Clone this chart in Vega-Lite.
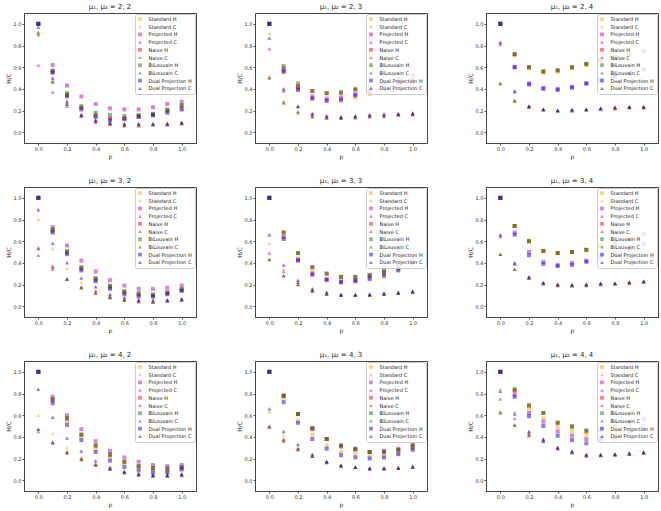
{
"$schema":"https://vega.github.io/schema/vega-lite/v6.json",
"padding":{"left":4,"top":2,"right":2,"bottom":2},
"background":"white",
"config":{
"font":"DejaVu Sans",
"view":{"stroke":"#444","strokeWidth":1},
"title":{"fontSize":7,"fontWeight":"normal","color":"#222","offset":3},
"axis":{"labelFontSize":5,"titleFontSize":6,"titleFontWeight":"normal","tickSize":2,"tickColor":"#555","labelColor":"#333","titleColor":"#333","domain":true,"domainColor":"#444","grid":false,"labelPadding":1,"titlePadding":2},
"legend":{"orient":"top-right","offset":1,"padding":2.5,"fillColor":"rgba(255,255,255,0.85)","strokeColor":"#ccc","cornerRadius":2,"labelFontSize":5,"labelColor":"#222","symbolSize":14,"rowPadding":1.7,"labelOffset":6,"symbolOpacity":0.5,"symbolStrokeWidth":0}
},
"spacing":{"row":16,"column":38},
"columns":3,
"resolve":{"legend":{"color":"independent","shape":"independent"}},
"datasets":{
"d22":[
{"s":"SH","p":0,"v":1},{"s":"SH","p":0.1,"v":0.55},{"s":"SH","p":0.2,"v":0.35},{"s":"SH","p":0.3,"v":0.22},{"s":"SH","p":0.4,"v":0.15},{"s":"SH","p":0.5,"v":0.12},{"s":"SH","p":0.6,"v":0.12},{"s":"SH","p":0.7,"v":0.14},{"s":"SH","p":0.8,"v":0.15},{"s":"SH","p":0.9,"v":0.19},{"s":"SH","p":1,"v":0.21},
{"s":"SC","p":0,"v":0.91},{"s":"SC","p":0.1,"v":0.49},{"s":"SC","p":0.2,"v":0.29},{"s":"SC","p":0.3,"v":0.16},{"s":"SC","p":0.4,"v":0.11},{"s":"SC","p":0.5,"v":0.08},{"s":"SC","p":0.6,"v":0.06},{"s":"SC","p":0.7,"v":0.06},{"s":"SC","p":0.8,"v":0.07},{"s":"SC","p":0.9,"v":0.07},{"s":"SC","p":1,"v":0.08},
{"s":"PH","p":0,"v":1},{"s":"PH","p":0.1,"v":0.62},{"s":"PH","p":0.2,"v":0.43},{"s":"PH","p":0.3,"v":0.33},{"s":"PH","p":0.4,"v":0.26},{"s":"PH","p":0.5,"v":0.22},{"s":"PH","p":0.6,"v":0.21},{"s":"PH","p":0.7,"v":0.21},{"s":"PH","p":0.8,"v":0.23},{"s":"PH","p":0.9,"v":0.26},{"s":"PH","p":1,"v":0.28},
{"s":"PC","p":0,"v":0.62},{"s":"PC","p":0.1,"v":0.37},{"s":"PC","p":0.2,"v":0.24},{"s":"PC","p":0.3,"v":0.15},{"s":"PC","p":0.4,"v":0.1},{"s":"PC","p":0.5,"v":0.08},{"s":"PC","p":0.6,"v":0.07},{"s":"PC","p":0.7,"v":0.07},{"s":"PC","p":0.8,"v":0.07},{"s":"PC","p":0.9,"v":0.08},{"s":"PC","p":1,"v":0.09},
{"s":"NH","p":0,"v":1},{"s":"NH","p":0.1,"v":0.56},{"s":"NH","p":0.2,"v":0.34},{"s":"NH","p":0.3,"v":0.23},{"s":"NH","p":0.4,"v":0.16},{"s":"NH","p":0.5,"v":0.13},{"s":"NH","p":0.6,"v":0.13},{"s":"NH","p":0.7,"v":0.15},{"s":"NH","p":0.8,"v":0.16},{"s":"NH","p":0.9,"v":0.2},{"s":"NH","p":1,"v":0.24},
{"s":"NC","p":0,"v":0.92},{"s":"NC","p":0.1,"v":0.47},{"s":"NC","p":0.2,"v":0.26},{"s":"NC","p":0.3,"v":0.15},{"s":"NC","p":0.4,"v":0.09},{"s":"NC","p":0.5,"v":0.07},{"s":"NC","p":0.6,"v":0.06},{"s":"NC","p":0.7,"v":0.06},{"s":"NC","p":0.8,"v":0.07},{"s":"NC","p":0.9,"v":0.07},{"s":"NC","p":1,"v":0.08},
{"s":"BH","p":0,"v":1},{"s":"BH","p":0.1,"v":0.57},{"s":"BH","p":0.2,"v":0.36},{"s":"BH","p":0.3,"v":0.24},{"s":"BH","p":0.4,"v":0.18},{"s":"BH","p":0.5,"v":0.16},{"s":"BH","p":0.6,"v":0.15},{"s":"BH","p":0.7,"v":0.16},{"s":"BH","p":0.8,"v":0.17},{"s":"BH","p":0.9,"v":0.21},{"s":"BH","p":1,"v":0.25},
{"s":"BC","p":0,"v":0.9},{"s":"BC","p":0.1,"v":0.46},{"s":"BC","p":0.2,"v":0.26},{"s":"BC","p":0.3,"v":0.16},{"s":"BC","p":0.4,"v":0.11},{"s":"BC","p":0.5,"v":0.08},{"s":"BC","p":0.6,"v":0.07},{"s":"BC","p":0.7,"v":0.07},{"s":"BC","p":0.8,"v":0.07},{"s":"BC","p":0.9,"v":0.07},{"s":"BC","p":1,"v":0.08},
{"s":"DH","p":0,"v":1},{"s":"DH","p":0.1,"v":0.55},{"s":"DH","p":0.2,"v":0.33},{"s":"DH","p":0.3,"v":0.21},{"s":"DH","p":0.4,"v":0.14},{"s":"DH","p":0.5,"v":0.11},{"s":"DH","p":0.6,"v":0.12},{"s":"DH","p":0.7,"v":0.14},{"s":"DH","p":0.8,"v":0.16},{"s":"DH","p":0.9,"v":0.18},{"s":"DH","p":1,"v":0.21},
{"s":"DC","p":0,"v":0.97},{"s":"DC","p":0.1,"v":0.5},{"s":"DC","p":0.2,"v":0.28},{"s":"DC","p":0.3,"v":0.16},{"s":"DC","p":0.4,"v":0.11},{"s":"DC","p":0.5,"v":0.09},{"s":"DC","p":0.6,"v":0.08},{"s":"DC","p":0.7,"v":0.08},{"s":"DC","p":0.8,"v":0.08},{"s":"DC","p":0.9,"v":0.08},{"s":"DC","p":1,"v":0.09}
],
"d23":[
{"s":"SH","p":0,"v":1},{"s":"SH","p":0.1,"v":0.55},{"s":"SH","p":0.2,"v":0.4},{"s":"SH","p":0.3,"v":0.31},{"s":"SH","p":0.4,"v":0.29},{"s":"SH","p":0.5,"v":0.29},{"s":"SH","p":0.6,"v":0.32},{"s":"SH","p":0.7,"v":0.35},{"s":"SH","p":0.8,"v":0.38},{"s":"SH","p":0.9,"v":0.42},{"s":"SH","p":1,"v":0.44},
{"s":"SC","p":0,"v":0.91},{"s":"SC","p":0.1,"v":0.39},{"s":"SC","p":0.2,"v":0.23},{"s":"SC","p":0.3,"v":0.16},{"s":"SC","p":0.4,"v":0.14},{"s":"SC","p":0.5,"v":0.13},{"s":"SC","p":0.6,"v":0.14},{"s":"SC","p":0.7,"v":0.15},{"s":"SC","p":0.8,"v":0.16},{"s":"SC","p":0.9,"v":0.16},{"s":"SC","p":1,"v":0.17},
{"s":"PH","p":0,"v":1},{"s":"PH","p":0.1,"v":0.57},{"s":"PH","p":0.2,"v":0.42},{"s":"PH","p":0.3,"v":0.33},{"s":"PH","p":0.4,"v":0.31},{"s":"PH","p":0.5,"v":0.32},{"s":"PH","p":0.6,"v":0.35},{"s":"PH","p":0.7,"v":0.38},{"s":"PH","p":0.8,"v":0.42},{"s":"PH","p":0.9,"v":0.46},{"s":"PH","p":1,"v":0.48},
{"s":"PC","p":0,"v":0.77},{"s":"PC","p":0.1,"v":0.38},{"s":"PC","p":0.2,"v":0.24},{"s":"PC","p":0.3,"v":0.17},{"s":"PC","p":0.4,"v":0.15},{"s":"PC","p":0.5,"v":0.14},{"s":"PC","p":0.6,"v":0.15},{"s":"PC","p":0.7,"v":0.16},{"s":"PC","p":0.8,"v":0.17},{"s":"PC","p":0.9,"v":0.17},{"s":"PC","p":1,"v":0.18},
{"s":"NH","p":0,"v":1},{"s":"NH","p":0.1,"v":0.59},{"s":"NH","p":0.2,"v":0.42},{"s":"NH","p":0.3,"v":0.38},{"s":"NH","p":0.4,"v":0.36},{"s":"NH","p":0.5,"v":0.36},{"s":"NH","p":0.6,"v":0.39},{"s":"NH","p":0.7,"v":0.42},{"s":"NH","p":0.8,"v":0.45},{"s":"NH","p":0.9,"v":0.48},{"s":"NH","p":1,"v":0.52},
{"s":"NC","p":0,"v":0.5},{"s":"NC","p":0.1,"v":0.27},{"s":"NC","p":0.2,"v":0.18},{"s":"NC","p":0.3,"v":0.15},{"s":"NC","p":0.4,"v":0.13},{"s":"NC","p":0.5,"v":0.13},{"s":"NC","p":0.6,"v":0.13},{"s":"NC","p":0.7,"v":0.14},{"s":"NC","p":0.8,"v":0.15},{"s":"NC","p":0.9,"v":0.16},{"s":"NC","p":1,"v":0.16},
{"s":"BH","p":0,"v":1},{"s":"BH","p":0.1,"v":0.61},{"s":"BH","p":0.2,"v":0.45},{"s":"BH","p":0.3,"v":0.38},{"s":"BH","p":0.4,"v":0.36},{"s":"BH","p":0.5,"v":0.37},{"s":"BH","p":0.6,"v":0.4},{"s":"BH","p":0.7,"v":0.43},{"s":"BH","p":0.8,"v":0.46},{"s":"BH","p":0.9,"v":0.49},{"s":"BH","p":1,"v":0.53},
{"s":"BC","p":0,"v":0.51},{"s":"BC","p":0.1,"v":0.28},{"s":"BC","p":0.2,"v":0.19},{"s":"BC","p":0.3,"v":0.14},{"s":"BC","p":0.4,"v":0.13},{"s":"BC","p":0.5,"v":0.13},{"s":"BC","p":0.6,"v":0.14},{"s":"BC","p":0.7,"v":0.15},{"s":"BC","p":0.8,"v":0.15},{"s":"BC","p":0.9,"v":0.16},{"s":"BC","p":1,"v":0.17},
{"s":"DH","p":0,"v":1},{"s":"DH","p":0.1,"v":0.56},{"s":"DH","p":0.2,"v":0.39},{"s":"DH","p":0.3,"v":0.31},{"s":"DH","p":0.4,"v":0.29},{"s":"DH","p":0.5,"v":0.3},{"s":"DH","p":0.6,"v":0.34},{"s":"DH","p":0.7,"v":0.37},{"s":"DH","p":0.8,"v":0.4},{"s":"DH","p":0.9,"v":0.45},{"s":"DH","p":1,"v":0.47},
{"s":"DC","p":0,"v":0.87},{"s":"DC","p":0.1,"v":0.4},{"s":"DC","p":0.2,"v":0.24},{"s":"DC","p":0.3,"v":0.17},{"s":"DC","p":0.4,"v":0.15},{"s":"DC","p":0.5,"v":0.14},{"s":"DC","p":0.6,"v":0.15},{"s":"DC","p":0.7,"v":0.16},{"s":"DC","p":0.8,"v":0.16},{"s":"DC","p":0.9,"v":0.17},{"s":"DC","p":1,"v":0.17}
],
"d24":[
{"s":"SH","p":0,"v":1},{"s":"SH","p":0.1,"v":0.71},{"s":"SH","p":0.2,"v":0.59},{"s":"SH","p":0.3,"v":0.55},{"s":"SH","p":0.4,"v":0.56},{"s":"SH","p":0.5,"v":0.59},{"s":"SH","p":0.6,"v":0.62},{"s":"SH","p":0.7,"v":0.65},{"s":"SH","p":0.8,"v":0.68},{"s":"SH","p":0.9,"v":0.71},{"s":"SH","p":1,"v":0.74},
{"s":"SC","p":0,"v":0.82},{"s":"SC","p":0.1,"v":0.29},{"s":"SC","p":0.2,"v":0.23},{"s":"SC","p":0.3,"v":0.21},{"s":"SC","p":0.4,"v":0.19},{"s":"SC","p":0.5,"v":0.19},{"s":"SC","p":0.6,"v":0.2},{"s":"SC","p":0.7,"v":0.21},{"s":"SC","p":0.8,"v":0.21},{"s":"SC","p":0.9,"v":0.22},{"s":"SC","p":1,"v":0.22},
{"s":"PH","p":0,"v":1},{"s":"PH","p":0.1,"v":0.6},{"s":"PH","p":0.2,"v":0.45},{"s":"PH","p":0.3,"v":0.41},{"s":"PH","p":0.4,"v":0.4},{"s":"PH","p":0.5,"v":0.42},{"s":"PH","p":0.6,"v":0.45},{"s":"PH","p":0.7,"v":0.48},{"s":"PH","p":0.8,"v":0.52},{"s":"PH","p":0.9,"v":0.55},{"s":"PH","p":1,"v":0.58},
{"s":"PC","p":0,"v":0.81},{"s":"PC","p":0.1,"v":0.37},{"s":"PC","p":0.2,"v":0.24},{"s":"PC","p":0.3,"v":0.21},{"s":"PC","p":0.4,"v":0.2},{"s":"PC","p":0.5,"v":0.2},{"s":"PC","p":0.6,"v":0.21},{"s":"PC","p":0.7,"v":0.21},{"s":"PC","p":0.8,"v":0.22},{"s":"PC","p":0.9,"v":0.23},{"s":"PC","p":1,"v":0.23},
{"s":"NH","p":0,"v":1},{"s":"NH","p":0.1,"v":0.72},{"s":"NH","p":0.2,"v":0.6},{"s":"NH","p":0.3,"v":0.56},{"s":"NH","p":0.4,"v":0.57},{"s":"NH","p":0.5,"v":0.6},{"s":"NH","p":0.6,"v":0.63},{"s":"NH","p":0.7,"v":0.66},{"s":"NH","p":0.8,"v":0.69},{"s":"NH","p":0.9,"v":0.72},{"s":"NH","p":1,"v":0.75},
{"s":"NC","p":0,"v":0.45},{"s":"NC","p":0.1,"v":0.29},{"s":"NC","p":0.2,"v":0.23},{"s":"NC","p":0.3,"v":0.21},{"s":"NC","p":0.4,"v":0.2},{"s":"NC","p":0.5,"v":0.2},{"s":"NC","p":0.6,"v":0.21},{"s":"NC","p":0.7,"v":0.22},{"s":"NC","p":0.8,"v":0.22},{"s":"NC","p":0.9,"v":0.23},{"s":"NC","p":1,"v":0.23},
{"s":"BH","p":0,"v":1},{"s":"BH","p":0.1,"v":0.72},{"s":"BH","p":0.2,"v":0.6},{"s":"BH","p":0.3,"v":0.56},{"s":"BH","p":0.4,"v":0.57},{"s":"BH","p":0.5,"v":0.6},{"s":"BH","p":0.6,"v":0.63},{"s":"BH","p":0.7,"v":0.66},{"s":"BH","p":0.8,"v":0.69},{"s":"BH","p":0.9,"v":0.72},{"s":"BH","p":1,"v":0.75},
{"s":"BC","p":0,"v":0.45},{"s":"BC","p":0.1,"v":0.29},{"s":"BC","p":0.2,"v":0.24},{"s":"BC","p":0.3,"v":0.21},{"s":"BC","p":0.4,"v":0.2},{"s":"BC","p":0.5,"v":0.21},{"s":"BC","p":0.6,"v":0.21},{"s":"BC","p":0.7,"v":0.22},{"s":"BC","p":0.8,"v":0.23},{"s":"BC","p":0.9,"v":0.24},{"s":"BC","p":1,"v":0.24},
{"s":"DH","p":0,"v":1},{"s":"DH","p":0.1,"v":0.6},{"s":"DH","p":0.2,"v":0.44},{"s":"DH","p":0.3,"v":0.4},{"s":"DH","p":0.4,"v":0.39},{"s":"DH","p":0.5,"v":0.41},{"s":"DH","p":0.6,"v":0.45},{"s":"DH","p":0.7,"v":0.48},{"s":"DH","p":0.8,"v":0.51},{"s":"DH","p":0.9,"v":0.54},{"s":"DH","p":1,"v":0.58},
{"s":"DC","p":0,"v":0.83},{"s":"DC","p":0.1,"v":0.38},{"s":"DC","p":0.2,"v":0.24},{"s":"DC","p":0.3,"v":0.21},{"s":"DC","p":0.4,"v":0.2},{"s":"DC","p":0.5,"v":0.21},{"s":"DC","p":0.6,"v":0.21},{"s":"DC","p":0.7,"v":0.22},{"s":"DC","p":0.8,"v":0.23},{"s":"DC","p":0.9,"v":0.23},{"s":"DC","p":1,"v":0.23}
],
"d32":[
{"s":"SH","p":0,"v":1},{"s":"SH","p":0.1,"v":0.69},{"s":"SH","p":0.2,"v":0.49},{"s":"SH","p":0.3,"v":0.34},{"s":"SH","p":0.4,"v":0.24},{"s":"SH","p":0.5,"v":0.17},{"s":"SH","p":0.6,"v":0.12},{"s":"SH","p":0.7,"v":0.1},{"s":"SH","p":0.8,"v":0.09},{"s":"SH","p":0.9,"v":0.12},{"s":"SH","p":1,"v":0.15},
{"s":"SC","p":0,"v":0.8},{"s":"SC","p":0.1,"v":0.53},{"s":"SC","p":0.2,"v":0.35},{"s":"SC","p":0.3,"v":0.22},{"s":"SC","p":0.4,"v":0.14},{"s":"SC","p":0.5,"v":0.09},{"s":"SC","p":0.6,"v":0.06},{"s":"SC","p":0.7,"v":0.05},{"s":"SC","p":0.8,"v":0.04},{"s":"SC","p":0.9,"v":0.05},{"s":"SC","p":1,"v":0.06},
{"s":"PH","p":0,"v":1},{"s":"PH","p":0.1,"v":0.73},{"s":"PH","p":0.2,"v":0.56},{"s":"PH","p":0.3,"v":0.42},{"s":"PH","p":0.4,"v":0.32},{"s":"PH","p":0.5,"v":0.24},{"s":"PH","p":0.6,"v":0.19},{"s":"PH","p":0.7,"v":0.16},{"s":"PH","p":0.8,"v":0.16},{"s":"PH","p":0.9,"v":0.17},{"s":"PH","p":1,"v":0.19},
{"s":"PC","p":0,"v":0.47},{"s":"PC","p":0.1,"v":0.34},{"s":"PC","p":0.2,"v":0.25},{"s":"PC","p":0.3,"v":0.18},{"s":"PC","p":0.4,"v":0.12},{"s":"PC","p":0.5,"v":0.08},{"s":"PC","p":0.6,"v":0.06},{"s":"PC","p":0.7,"v":0.05},{"s":"PC","p":0.8,"v":0.04},{"s":"PC","p":0.9,"v":0.05},{"s":"PC","p":1,"v":0.06},
{"s":"NH","p":0,"v":1},{"s":"NH","p":0.1,"v":0.7},{"s":"NH","p":0.2,"v":0.5},{"s":"NH","p":0.3,"v":0.35},{"s":"NH","p":0.4,"v":0.25},{"s":"NH","p":0.5,"v":0.18},{"s":"NH","p":0.6,"v":0.13},{"s":"NH","p":0.7,"v":0.11},{"s":"NH","p":0.8,"v":0.1},{"s":"NH","p":0.9,"v":0.12},{"s":"NH","p":1,"v":0.15},
{"s":"NC","p":0,"v":0.53},{"s":"NC","p":0.1,"v":0.36},{"s":"NC","p":0.2,"v":0.25},{"s":"NC","p":0.3,"v":0.17},{"s":"NC","p":0.4,"v":0.14},{"s":"NC","p":0.5,"v":0.09},{"s":"NC","p":0.6,"v":0.06},{"s":"NC","p":0.7,"v":0.04},{"s":"NC","p":0.8,"v":0.04},{"s":"NC","p":0.9,"v":0.05},{"s":"NC","p":1,"v":0.06},
{"s":"BH","p":0,"v":1},{"s":"BH","p":0.1,"v":0.71},{"s":"BH","p":0.2,"v":0.51},{"s":"BH","p":0.3,"v":0.36},{"s":"BH","p":0.4,"v":0.26},{"s":"BH","p":0.5,"v":0.19},{"s":"BH","p":0.6,"v":0.14},{"s":"BH","p":0.7,"v":0.12},{"s":"BH","p":0.8,"v":0.11},{"s":"BH","p":0.9,"v":0.13},{"s":"BH","p":1,"v":0.16},
{"s":"BC","p":0,"v":0.54},{"s":"BC","p":0.1,"v":0.37},{"s":"BC","p":0.2,"v":0.25},{"s":"BC","p":0.3,"v":0.17},{"s":"BC","p":0.4,"v":0.12},{"s":"BC","p":0.5,"v":0.08},{"s":"BC","p":0.6,"v":0.06},{"s":"BC","p":0.7,"v":0.05},{"s":"BC","p":0.8,"v":0.04},{"s":"BC","p":0.9,"v":0.05},{"s":"BC","p":1,"v":0.06},
{"s":"DH","p":0,"v":1},{"s":"DH","p":0.1,"v":0.68},{"s":"DH","p":0.2,"v":0.48},{"s":"DH","p":0.3,"v":0.33},{"s":"DH","p":0.4,"v":0.23},{"s":"DH","p":0.5,"v":0.16},{"s":"DH","p":0.6,"v":0.11},{"s":"DH","p":0.7,"v":0.09},{"s":"DH","p":0.8,"v":0.09},{"s":"DH","p":0.9,"v":0.11},{"s":"DH","p":1,"v":0.14},
{"s":"DC","p":0,"v":0.89},{"s":"DC","p":0.1,"v":0.58},{"s":"DC","p":0.2,"v":0.4},{"s":"DC","p":0.3,"v":0.26},{"s":"DC","p":0.4,"v":0.18},{"s":"DC","p":0.5,"v":0.11},{"s":"DC","p":0.6,"v":0.08},{"s":"DC","p":0.7,"v":0.06},{"s":"DC","p":0.8,"v":0.06},{"s":"DC","p":0.9,"v":0.06},{"s":"DC","p":1,"v":0.07}
],
"d33":[
{"s":"SH","p":0,"v":1},{"s":"SH","p":0.1,"v":0.64},{"s":"SH","p":0.2,"v":0.44},{"s":"SH","p":0.3,"v":0.32},{"s":"SH","p":0.4,"v":0.25},{"s":"SH","p":0.5,"v":0.22},{"s":"SH","p":0.6,"v":0.24},{"s":"SH","p":0.7,"v":0.26},{"s":"SH","p":0.8,"v":0.29},{"s":"SH","p":0.9,"v":0.34},{"s":"SH","p":1,"v":0.39},
{"s":"SC","p":0,"v":0.58},{"s":"SC","p":0.1,"v":0.34},{"s":"SC","p":0.2,"v":0.22},{"s":"SC","p":0.3,"v":0.15},{"s":"SC","p":0.4,"v":0.12},{"s":"SC","p":0.5,"v":0.1},{"s":"SC","p":0.6,"v":0.1},{"s":"SC","p":0.7,"v":0.1},{"s":"SC","p":0.8,"v":0.11},{"s":"SC","p":0.9,"v":0.12},{"s":"SC","p":1,"v":0.13},
{"s":"PH","p":0,"v":1},{"s":"PH","p":0.1,"v":0.64},{"s":"PH","p":0.2,"v":0.43},{"s":"PH","p":0.3,"v":0.3},{"s":"PH","p":0.4,"v":0.25},{"s":"PH","p":0.5,"v":0.23},{"s":"PH","p":0.6,"v":0.24},{"s":"PH","p":0.7,"v":0.29},{"s":"PH","p":0.8,"v":0.33},{"s":"PH","p":0.9,"v":0.37},{"s":"PH","p":1,"v":0.43},
{"s":"PC","p":0,"v":0.49},{"s":"PC","p":0.1,"v":0.32},{"s":"PC","p":0.2,"v":0.22},{"s":"PC","p":0.3,"v":0.15},{"s":"PC","p":0.4,"v":0.12},{"s":"PC","p":0.5,"v":0.1},{"s":"PC","p":0.6,"v":0.1},{"s":"PC","p":0.7,"v":0.11},{"s":"PC","p":0.8,"v":0.12},{"s":"PC","p":0.9,"v":0.12},{"s":"PC","p":1,"v":0.13},
{"s":"NH","p":0,"v":1},{"s":"NH","p":0.1,"v":0.68},{"s":"NH","p":0.2,"v":0.49},{"s":"NH","p":0.3,"v":0.36},{"s":"NH","p":0.4,"v":0.3},{"s":"NH","p":0.5,"v":0.27},{"s":"NH","p":0.6,"v":0.27},{"s":"NH","p":0.7,"v":0.28},{"s":"NH","p":0.8,"v":0.31},{"s":"NH","p":0.9,"v":0.35},{"s":"NH","p":1,"v":0.41},
{"s":"NC","p":0,"v":0.43},{"s":"NC","p":0.1,"v":0.28},{"s":"NC","p":0.2,"v":0.2},{"s":"NC","p":0.3,"v":0.14},{"s":"NC","p":0.4,"v":0.11},{"s":"NC","p":0.5,"v":0.1},{"s":"NC","p":0.6,"v":0.1},{"s":"NC","p":0.7,"v":0.1},{"s":"NC","p":0.8,"v":0.11},{"s":"NC","p":0.9,"v":0.12},{"s":"NC","p":1,"v":0.13},
{"s":"BH","p":0,"v":1},{"s":"BH","p":0.1,"v":0.68},{"s":"BH","p":0.2,"v":0.49},{"s":"BH","p":0.3,"v":0.36},{"s":"BH","p":0.4,"v":0.3},{"s":"BH","p":0.5,"v":0.27},{"s":"BH","p":0.6,"v":0.27},{"s":"BH","p":0.7,"v":0.28},{"s":"BH","p":0.8,"v":0.32},{"s":"BH","p":0.9,"v":0.36},{"s":"BH","p":1,"v":0.42},
{"s":"BC","p":0,"v":0.43},{"s":"BC","p":0.1,"v":0.28},{"s":"BC","p":0.2,"v":0.2},{"s":"BC","p":0.3,"v":0.14},{"s":"BC","p":0.4,"v":0.11},{"s":"BC","p":0.5,"v":0.1},{"s":"BC","p":0.6,"v":0.1},{"s":"BC","p":0.7,"v":0.1},{"s":"BC","p":0.8,"v":0.11},{"s":"BC","p":0.9,"v":0.12},{"s":"BC","p":1,"v":0.13},
{"s":"DH","p":0,"v":1},{"s":"DH","p":0.1,"v":0.62},{"s":"DH","p":0.2,"v":0.42},{"s":"DH","p":0.3,"v":0.29},{"s":"DH","p":0.4,"v":0.24},{"s":"DH","p":0.5,"v":0.22},{"s":"DH","p":0.6,"v":0.23},{"s":"DH","p":0.7,"v":0.25},{"s":"DH","p":0.8,"v":0.28},{"s":"DH","p":0.9,"v":0.33},{"s":"DH","p":1,"v":0.4},
{"s":"DC","p":0,"v":0.66},{"s":"DC","p":0.1,"v":0.38},{"s":"DC","p":0.2,"v":0.24},{"s":"DC","p":0.3,"v":0.16},{"s":"DC","p":0.4,"v":0.13},{"s":"DC","p":0.5,"v":0.11},{"s":"DC","p":0.6,"v":0.11},{"s":"DC","p":0.7,"v":0.11},{"s":"DC","p":0.8,"v":0.12},{"s":"DC","p":0.9,"v":0.13},{"s":"DC","p":1,"v":0.14}
],
"d34":[
{"s":"SH","p":0,"v":1},{"s":"SH","p":0.1,"v":0.74},{"s":"SH","p":0.2,"v":0.6},{"s":"SH","p":0.3,"v":0.51},{"s":"SH","p":0.4,"v":0.49},{"s":"SH","p":0.5,"v":0.5},{"s":"SH","p":0.6,"v":0.52},{"s":"SH","p":0.7,"v":0.56},{"s":"SH","p":0.8,"v":0.59},{"s":"SH","p":0.9,"v":0.62},{"s":"SH","p":1,"v":0.66},
{"s":"SC","p":0,"v":0.65},{"s":"SC","p":0.1,"v":0.39},{"s":"SC","p":0.2,"v":0.26},{"s":"SC","p":0.3,"v":0.21},{"s":"SC","p":0.4,"v":0.19},{"s":"SC","p":0.5,"v":0.19},{"s":"SC","p":0.6,"v":0.19},{"s":"SC","p":0.7,"v":0.2},{"s":"SC","p":0.8,"v":0.21},{"s":"SC","p":0.9,"v":0.21},{"s":"SC","p":1,"v":0.22},
{"s":"PH","p":0,"v":1},{"s":"PH","p":0.1,"v":0.68},{"s":"PH","p":0.2,"v":0.5},{"s":"PH","p":0.3,"v":0.41},{"s":"PH","p":0.4,"v":0.38},{"s":"PH","p":0.5,"v":0.4},{"s":"PH","p":0.6,"v":0.42},{"s":"PH","p":0.7,"v":0.46},{"s":"PH","p":0.8,"v":0.49},{"s":"PH","p":0.9,"v":0.53},{"s":"PH","p":1,"v":0.58},
{"s":"PC","p":0,"v":0.64},{"s":"PC","p":0.1,"v":0.39},{"s":"PC","p":0.2,"v":0.27},{"s":"PC","p":0.3,"v":0.21},{"s":"PC","p":0.4,"v":0.2},{"s":"PC","p":0.5,"v":0.19},{"s":"PC","p":0.6,"v":0.2},{"s":"PC","p":0.7,"v":0.21},{"s":"PC","p":0.8,"v":0.21},{"s":"PC","p":0.9,"v":0.22},{"s":"PC","p":1,"v":0.23},
{"s":"NH","p":0,"v":1},{"s":"NH","p":0.1,"v":0.74},{"s":"NH","p":0.2,"v":0.6},{"s":"NH","p":0.3,"v":0.51},{"s":"NH","p":0.4,"v":0.49},{"s":"NH","p":0.5,"v":0.5},{"s":"NH","p":0.6,"v":0.52},{"s":"NH","p":0.7,"v":0.56},{"s":"NH","p":0.8,"v":0.59},{"s":"NH","p":0.9,"v":0.62},{"s":"NH","p":1,"v":0.67},
{"s":"NC","p":0,"v":0.48},{"s":"NC","p":0.1,"v":0.34},{"s":"NC","p":0.2,"v":0.26},{"s":"NC","p":0.3,"v":0.21},{"s":"NC","p":0.4,"v":0.19},{"s":"NC","p":0.5,"v":0.19},{"s":"NC","p":0.6,"v":0.19},{"s":"NC","p":0.7,"v":0.2},{"s":"NC","p":0.8,"v":0.21},{"s":"NC","p":0.9,"v":0.21},{"s":"NC","p":1,"v":0.22},
{"s":"BH","p":0,"v":1},{"s":"BH","p":0.1,"v":0.74},{"s":"BH","p":0.2,"v":0.6},{"s":"BH","p":0.3,"v":0.51},{"s":"BH","p":0.4,"v":0.49},{"s":"BH","p":0.5,"v":0.5},{"s":"BH","p":0.6,"v":0.52},{"s":"BH","p":0.7,"v":0.56},{"s":"BH","p":0.8,"v":0.59},{"s":"BH","p":0.9,"v":0.62},{"s":"BH","p":1,"v":0.67},
{"s":"BC","p":0,"v":0.48},{"s":"BC","p":0.1,"v":0.34},{"s":"BC","p":0.2,"v":0.26},{"s":"BC","p":0.3,"v":0.21},{"s":"BC","p":0.4,"v":0.2},{"s":"BC","p":0.5,"v":0.19},{"s":"BC","p":0.6,"v":0.2},{"s":"BC","p":0.7,"v":0.21},{"s":"BC","p":0.8,"v":0.21},{"s":"BC","p":0.9,"v":0.22},{"s":"BC","p":1,"v":0.23},
{"s":"DH","p":0,"v":1},{"s":"DH","p":0.1,"v":0.66},{"s":"DH","p":0.2,"v":0.47},{"s":"DH","p":0.3,"v":0.39},{"s":"DH","p":0.4,"v":0.37},{"s":"DH","p":0.5,"v":0.38},{"s":"DH","p":0.6,"v":0.41},{"s":"DH","p":0.7,"v":0.45},{"s":"DH","p":0.8,"v":0.48},{"s":"DH","p":0.9,"v":0.52},{"s":"DH","p":1,"v":0.57},
{"s":"DC","p":0,"v":0.66},{"s":"DC","p":0.1,"v":0.4},{"s":"DC","p":0.2,"v":0.27},{"s":"DC","p":0.3,"v":0.22},{"s":"DC","p":0.4,"v":0.2},{"s":"DC","p":0.5,"v":0.2},{"s":"DC","p":0.6,"v":0.2},{"s":"DC","p":0.7,"v":0.21},{"s":"DC","p":0.8,"v":0.21},{"s":"DC","p":0.9,"v":0.22},{"s":"DC","p":1,"v":0.23}
],
"d42":[
{"s":"SH","p":0,"v":1},{"s":"SH","p":0.1,"v":0.73},{"s":"SH","p":0.2,"v":0.54},{"s":"SH","p":0.3,"v":0.4},{"s":"SH","p":0.4,"v":0.29},{"s":"SH","p":0.5,"v":0.21},{"s":"SH","p":0.6,"v":0.15},{"s":"SH","p":0.7,"v":0.11},{"s":"SH","p":0.8,"v":0.09},{"s":"SH","p":0.9,"v":0.08},{"s":"SH","p":1,"v":0.1},
{"s":"SC","p":0,"v":0.6},{"s":"SC","p":0.1,"v":0.43},{"s":"SC","p":0.2,"v":0.3},{"s":"SC","p":0.3,"v":0.21},{"s":"SC","p":0.4,"v":0.15},{"s":"SC","p":0.5,"v":0.11},{"s":"SC","p":0.6,"v":0.08},{"s":"SC","p":0.7,"v":0.06},{"s":"SC","p":0.8,"v":0.05},{"s":"SC","p":0.9,"v":0.04},{"s":"SC","p":1,"v":0.05},
{"s":"PH","p":0,"v":1},{"s":"PH","p":0.1,"v":0.77},{"s":"PH","p":0.2,"v":0.6},{"s":"PH","p":0.3,"v":0.47},{"s":"PH","p":0.4,"v":0.36},{"s":"PH","p":0.5,"v":0.27},{"s":"PH","p":0.6,"v":0.21},{"s":"PH","p":0.7,"v":0.17},{"s":"PH","p":0.8,"v":0.14},{"s":"PH","p":0.9,"v":0.13},{"s":"PH","p":1,"v":0.14},
{"s":"PC","p":0,"v":0.45},{"s":"PC","p":0.1,"v":0.34},{"s":"PC","p":0.2,"v":0.25},{"s":"PC","p":0.3,"v":0.19},{"s":"PC","p":0.4,"v":0.14},{"s":"PC","p":0.5,"v":0.1},{"s":"PC","p":0.6,"v":0.07},{"s":"PC","p":0.7,"v":0.05},{"s":"PC","p":0.8,"v":0.04},{"s":"PC","p":0.9,"v":0.04},{"s":"PC","p":1,"v":0.04},
{"s":"NH","p":0,"v":1},{"s":"NH","p":0.1,"v":0.74},{"s":"NH","p":0.2,"v":0.57},{"s":"NH","p":0.3,"v":0.42},{"s":"NH","p":0.4,"v":0.32},{"s":"NH","p":0.5,"v":0.23},{"s":"NH","p":0.6,"v":0.17},{"s":"NH","p":0.7,"v":0.13},{"s":"NH","p":0.8,"v":0.11},{"s":"NH","p":0.9,"v":0.1},{"s":"NH","p":1,"v":0.12},
{"s":"NC","p":0,"v":0.47},{"s":"NC","p":0.1,"v":0.35},{"s":"NC","p":0.2,"v":0.26},{"s":"NC","p":0.3,"v":0.2},{"s":"NC","p":0.4,"v":0.15},{"s":"NC","p":0.5,"v":0.11},{"s":"NC","p":0.6,"v":0.07},{"s":"NC","p":0.7,"v":0.05},{"s":"NC","p":0.8,"v":0.04},{"s":"NC","p":0.9,"v":0.04},{"s":"NC","p":1,"v":0.05},
{"s":"BH","p":0,"v":1},{"s":"BH","p":0.1,"v":0.75},{"s":"BH","p":0.2,"v":0.57},{"s":"BH","p":0.3,"v":0.42},{"s":"BH","p":0.4,"v":0.32},{"s":"BH","p":0.5,"v":0.24},{"s":"BH","p":0.6,"v":0.17},{"s":"BH","p":0.7,"v":0.13},{"s":"BH","p":0.8,"v":0.11},{"s":"BH","p":0.9,"v":0.11},{"s":"BH","p":1,"v":0.12},
{"s":"BC","p":0,"v":0.47},{"s":"BC","p":0.1,"v":0.35},{"s":"BC","p":0.2,"v":0.26},{"s":"BC","p":0.3,"v":0.19},{"s":"BC","p":0.4,"v":0.14},{"s":"BC","p":0.5,"v":0.1},{"s":"BC","p":0.6,"v":0.07},{"s":"BC","p":0.7,"v":0.05},{"s":"BC","p":0.8,"v":0.04},{"s":"BC","p":0.9,"v":0.04},{"s":"BC","p":1,"v":0.05},
{"s":"DH","p":0,"v":1},{"s":"DH","p":0.1,"v":0.71},{"s":"DH","p":0.2,"v":0.51},{"s":"DH","p":0.3,"v":0.37},{"s":"DH","p":0.4,"v":0.26},{"s":"DH","p":0.5,"v":0.18},{"s":"DH","p":0.6,"v":0.12},{"s":"DH","p":0.7,"v":0.09},{"s":"DH","p":0.8,"v":0.07},{"s":"DH","p":0.9,"v":0.07},{"s":"DH","p":1,"v":0.1},
{"s":"DC","p":0,"v":0.84},{"s":"DC","p":0.1,"v":0.58},{"s":"DC","p":0.2,"v":0.39},{"s":"DC","p":0.3,"v":0.27},{"s":"DC","p":0.4,"v":0.18},{"s":"DC","p":0.5,"v":0.12},{"s":"DC","p":0.6,"v":0.08},{"s":"DC","p":0.7,"v":0.06},{"s":"DC","p":0.8,"v":0.05},{"s":"DC","p":0.9,"v":0.05},{"s":"DC","p":1,"v":0.06}
],
"d43":[
{"s":"SH","p":0,"v":1},{"s":"SH","p":0.1,"v":0.76},{"s":"SH","p":0.2,"v":0.55},{"s":"SH","p":0.3,"v":0.42},{"s":"SH","p":0.4,"v":0.32},{"s":"SH","p":0.5,"v":0.26},{"s":"SH","p":0.6,"v":0.24},{"s":"SH","p":0.7,"v":0.22},{"s":"SH","p":0.8,"v":0.23},{"s":"SH","p":0.9,"v":0.25},{"s":"SH","p":1,"v":0.29},
{"s":"SC","p":0,"v":0.63},{"s":"SC","p":0.1,"v":0.42},{"s":"SC","p":0.2,"v":0.3},{"s":"SC","p":0.3,"v":0.23},{"s":"SC","p":0.4,"v":0.17},{"s":"SC","p":0.5,"v":0.14},{"s":"SC","p":0.6,"v":0.12},{"s":"SC","p":0.7,"v":0.11},{"s":"SC","p":0.8,"v":0.11},{"s":"SC","p":0.9,"v":0.11},{"s":"SC","p":1,"v":0.12},
{"s":"PH","p":0,"v":1},{"s":"PH","p":0.1,"v":0.78},{"s":"PH","p":0.2,"v":0.61},{"s":"PH","p":0.3,"v":0.47},{"s":"PH","p":0.4,"v":0.38},{"s":"PH","p":0.5,"v":0.31},{"s":"PH","p":0.6,"v":0.28},{"s":"PH","p":0.7,"v":0.26},{"s":"PH","p":0.8,"v":0.27},{"s":"PH","p":0.9,"v":0.29},{"s":"PH","p":1,"v":0.33},
{"s":"PC","p":0,"v":0.5},{"s":"PC","p":0.1,"v":0.38},{"s":"PC","p":0.2,"v":0.29},{"s":"PC","p":0.3,"v":0.22},{"s":"PC","p":0.4,"v":0.17},{"s":"PC","p":0.5,"v":0.13},{"s":"PC","p":0.6,"v":0.12},{"s":"PC","p":0.7,"v":0.11},{"s":"PC","p":0.8,"v":0.11},{"s":"PC","p":0.9,"v":0.11},{"s":"PC","p":1,"v":0.12},
{"s":"NH","p":0,"v":1},{"s":"NH","p":0.1,"v":0.78},{"s":"NH","p":0.2,"v":0.61},{"s":"NH","p":0.3,"v":0.48},{"s":"NH","p":0.4,"v":0.38},{"s":"NH","p":0.5,"v":0.32},{"s":"NH","p":0.6,"v":0.29},{"s":"NH","p":0.7,"v":0.26},{"s":"NH","p":0.8,"v":0.26},{"s":"NH","p":0.9,"v":0.28},{"s":"NH","p":1,"v":0.31},
{"s":"NC","p":0,"v":0.49},{"s":"NC","p":0.1,"v":0.37},{"s":"NC","p":0.2,"v":0.29},{"s":"NC","p":0.3,"v":0.22},{"s":"NC","p":0.4,"v":0.16},{"s":"NC","p":0.5,"v":0.13},{"s":"NC","p":0.6,"v":0.12},{"s":"NC","p":0.7,"v":0.1},{"s":"NC","p":0.8,"v":0.1},{"s":"NC","p":0.9,"v":0.11},{"s":"NC","p":1,"v":0.12},
{"s":"BH","p":0,"v":1},{"s":"BH","p":0.1,"v":0.78},{"s":"BH","p":0.2,"v":0.61},{"s":"BH","p":0.3,"v":0.48},{"s":"BH","p":0.4,"v":0.38},{"s":"BH","p":0.5,"v":0.32},{"s":"BH","p":0.6,"v":0.29},{"s":"BH","p":0.7,"v":0.26},{"s":"BH","p":0.8,"v":0.26},{"s":"BH","p":0.9,"v":0.28},{"s":"BH","p":1,"v":0.32},
{"s":"BC","p":0,"v":0.49},{"s":"BC","p":0.1,"v":0.36},{"s":"BC","p":0.2,"v":0.28},{"s":"BC","p":0.3,"v":0.22},{"s":"BC","p":0.4,"v":0.17},{"s":"BC","p":0.5,"v":0.13},{"s":"BC","p":0.6,"v":0.12},{"s":"BC","p":0.7,"v":0.11},{"s":"BC","p":0.8,"v":0.11},{"s":"BC","p":0.9,"v":0.11},{"s":"BC","p":1,"v":0.12},
{"s":"DH","p":0,"v":1},{"s":"DH","p":0.1,"v":0.72},{"s":"DH","p":0.2,"v":0.53},{"s":"DH","p":0.3,"v":0.38},{"s":"DH","p":0.4,"v":0.29},{"s":"DH","p":0.5,"v":0.23},{"s":"DH","p":0.6,"v":0.21},{"s":"DH","p":0.7,"v":0.2},{"s":"DH","p":0.8,"v":0.21},{"s":"DH","p":0.9,"v":0.24},{"s":"DH","p":1,"v":0.28},
{"s":"DC","p":0,"v":0.66},{"s":"DC","p":0.1,"v":0.45},{"s":"DC","p":0.2,"v":0.33},{"s":"DC","p":0.3,"v":0.24},{"s":"DC","p":0.4,"v":0.17},{"s":"DC","p":0.5,"v":0.14},{"s":"DC","p":0.6,"v":0.12},{"s":"DC","p":0.7,"v":0.11},{"s":"DC","p":0.8,"v":0.11},{"s":"DC","p":0.9,"v":0.12},{"s":"DC","p":1,"v":0.13}
],
"d44":[
{"s":"SH","p":0,"v":1},{"s":"SH","p":0.1,"v":0.82},{"s":"SH","p":0.2,"v":0.66},{"s":"SH","p":0.3,"v":0.57},{"s":"SH","p":0.4,"v":0.49},{"s":"SH","p":0.5,"v":0.45},{"s":"SH","p":0.6,"v":0.42},{"s":"SH","p":0.7,"v":0.42},{"s":"SH","p":0.8,"v":0.45},{"s":"SH","p":0.9,"v":0.49},{"s":"SH","p":1,"v":0.53},
{"s":"SC","p":0,"v":0.84},{"s":"SC","p":0.1,"v":0.63},{"s":"SC","p":0.2,"v":0.45},{"s":"SC","p":0.3,"v":0.37},{"s":"SC","p":0.4,"v":0.3},{"s":"SC","p":0.5,"v":0.26},{"s":"SC","p":0.6,"v":0.23},{"s":"SC","p":0.7,"v":0.22},{"s":"SC","p":0.8,"v":0.23},{"s":"SC","p":0.9,"v":0.24},{"s":"SC","p":1,"v":0.25},
{"s":"PH","p":0,"v":1},{"s":"PH","p":0.1,"v":0.79},{"s":"PH","p":0.2,"v":0.62},{"s":"PH","p":0.3,"v":0.54},{"s":"PH","p":0.4,"v":0.45},{"s":"PH","p":0.5,"v":0.41},{"s":"PH","p":0.6,"v":0.38},{"s":"PH","p":0.7,"v":0.39},{"s":"PH","p":0.8,"v":0.42},{"s":"PH","p":0.9,"v":0.46},{"s":"PH","p":1,"v":0.5},
{"s":"PC","p":0,"v":0.75},{"s":"PC","p":0.1,"v":0.57},{"s":"PC","p":0.2,"v":0.43},{"s":"PC","p":0.3,"v":0.37},{"s":"PC","p":0.4,"v":0.3},{"s":"PC","p":0.5,"v":0.26},{"s":"PC","p":0.6,"v":0.23},{"s":"PC","p":0.7,"v":0.23},{"s":"PC","p":0.8,"v":0.24},{"s":"PC","p":0.9,"v":0.24},{"s":"PC","p":1,"v":0.25},
{"s":"NH","p":0,"v":1},{"s":"NH","p":0.1,"v":0.83},{"s":"NH","p":0.2,"v":0.69},{"s":"NH","p":0.3,"v":0.62},{"s":"NH","p":0.4,"v":0.53},{"s":"NH","p":0.5,"v":0.5},{"s":"NH","p":0.6,"v":0.45},{"s":"NH","p":0.7,"v":0.46},{"s":"NH","p":0.8,"v":0.49},{"s":"NH","p":0.9,"v":0.53},{"s":"NH","p":1,"v":0.56},
{"s":"NC","p":0,"v":0.63},{"s":"NC","p":0.1,"v":0.51},{"s":"NC","p":0.2,"v":0.42},{"s":"NC","p":0.3,"v":0.36},{"s":"NC","p":0.4,"v":0.29},{"s":"NC","p":0.5,"v":0.26},{"s":"NC","p":0.6,"v":0.22},{"s":"NC","p":0.7,"v":0.23},{"s":"NC","p":0.8,"v":0.23},{"s":"NC","p":0.9,"v":0.24},{"s":"NC","p":1,"v":0.25},
{"s":"BH","p":0,"v":1},{"s":"BH","p":0.1,"v":0.84},{"s":"BH","p":0.2,"v":0.69},{"s":"BH","p":0.3,"v":0.62},{"s":"BH","p":0.4,"v":0.53},{"s":"BH","p":0.5,"v":0.49},{"s":"BH","p":0.6,"v":0.46},{"s":"BH","p":0.7,"v":0.47},{"s":"BH","p":0.8,"v":0.5},{"s":"BH","p":0.9,"v":0.54},{"s":"BH","p":1,"v":0.57},
{"s":"BC","p":0,"v":0.62},{"s":"BC","p":0.1,"v":0.51},{"s":"BC","p":0.2,"v":0.41},{"s":"BC","p":0.3,"v":0.36},{"s":"BC","p":0.4,"v":0.3},{"s":"BC","p":0.5,"v":0.25},{"s":"BC","p":0.6,"v":0.23},{"s":"BC","p":0.7,"v":0.23},{"s":"BC","p":0.8,"v":0.24},{"s":"BC","p":0.9,"v":0.25},{"s":"BC","p":1,"v":0.26},
{"s":"DH","p":0,"v":1},{"s":"DH","p":0.1,"v":0.77},{"s":"DH","p":0.2,"v":0.59},{"s":"DH","p":0.3,"v":0.5},{"s":"DH","p":0.4,"v":0.41},{"s":"DH","p":0.5,"v":0.37},{"s":"DH","p":0.6,"v":0.34},{"s":"DH","p":0.7,"v":0.37},{"s":"DH","p":0.8,"v":0.38},{"s":"DH","p":0.9,"v":0.43},{"s":"DH","p":1,"v":0.47},
{"s":"DC","p":0,"v":0.82},{"s":"DC","p":0.1,"v":0.61},{"s":"DC","p":0.2,"v":0.45},{"s":"DC","p":0.3,"v":0.38},{"s":"DC","p":0.4,"v":0.3},{"s":"DC","p":0.5,"v":0.27},{"s":"DC","p":0.6,"v":0.24},{"s":"DC","p":0.7,"v":0.24},{"s":"DC","p":0.8,"v":0.24},{"s":"DC","p":0.9,"v":0.25},{"s":"DC","p":1,"v":0.26}
]
},
"concat":[
{"data":{"name":"d22"},"title":"μ₁, μ₂ = 2, 2","width":172,"height":130,"mark":{"type":"point","filled":true,"opacity":0.5,"size":16},"encoding":{"x":{"field":"p","type":"quantitative","scale":{"domain":[-0.1,1.1],"nice":false},"axis":{"title":"p","values":[0,0.2,0.4,0.6,0.8,1],"format":".1f"}},"y":{"field":"v","type":"quantitative","scale":{"domain":[-0.1,1.1],"nice":false},"axis":{"title":"H/C","values":[0,0.2,0.4,0.6,0.8,1],"format":".1f"}},"color":{"field":"s","type":"nominal","scale":{"domain":["SH","SC","PH","PC","NH","NC","BH","BC","DH","DC"],"range":["#FFA500","#FFA500","#BF00BF","#BF00BF","#FF0000","#FF0000","#008000","#008000","#0000FF","#0000FF"]},"legend":{"title":null,"labelExpr":"{'SH':'Standard H','SC':'Standard C','PH':'Projected H','PC':'Projected C','NH':'Naive H','NC':'Naive C','BH':'BiLouvain H','BC':'BiLouvain C','DH':'Dual Projection H','DC':'Dual Projection C'}[datum.label]"}},"shape":{"field":"s","type":"nominal","scale":{"domain":["SH","SC","PH","PC","NH","NC","BH","BC","DH","DC"],"range":["square","triangle-up","square","triangle-up","square","triangle-up","square","triangle-up","square","triangle-up"]},"legend":{"title":null,"labelExpr":"{'SH':'Standard H','SC':'Standard C','PH':'Projected H','PC':'Projected C','NH':'Naive H','NC':'Naive C','BH':'BiLouvain H','BC':'BiLouvain C','DH':'Dual Projection H','DC':'Dual Projection C'}[datum.label]"}}}},
{"data":{"name":"d23"},"title":"μ₁, μ₂ = 2, 3","width":172,"height":130,"mark":{"type":"point","filled":true,"opacity":0.5,"size":16},"encoding":{"x":{"field":"p","type":"quantitative","scale":{"domain":[-0.1,1.1],"nice":false},"axis":{"title":"p","values":[0,0.2,0.4,0.6,0.8,1],"format":".1f"}},"y":{"field":"v","type":"quantitative","scale":{"domain":[-0.1,1.1],"nice":false},"axis":{"title":"H/C","values":[0,0.2,0.4,0.6,0.8,1],"format":".1f"}},"color":{"field":"s","type":"nominal","scale":{"domain":["SH","SC","PH","PC","NH","NC","BH","BC","DH","DC"],"range":["#FFA500","#FFA500","#BF00BF","#BF00BF","#FF0000","#FF0000","#008000","#008000","#0000FF","#0000FF"]},"legend":{"title":null,"labelExpr":"{'SH':'Standard H','SC':'Standard C','PH':'Projected H','PC':'Projected C','NH':'Naive H','NC':'Naive C','BH':'BiLouvain H','BC':'BiLouvain C','DH':'Dual Projection H','DC':'Dual Projection C'}[datum.label]"}},"shape":{"field":"s","type":"nominal","scale":{"domain":["SH","SC","PH","PC","NH","NC","BH","BC","DH","DC"],"range":["square","triangle-up","square","triangle-up","square","triangle-up","square","triangle-up","square","triangle-up"]},"legend":{"title":null,"labelExpr":"{'SH':'Standard H','SC':'Standard C','PH':'Projected H','PC':'Projected C','NH':'Naive H','NC':'Naive C','BH':'BiLouvain H','BC':'BiLouvain C','DH':'Dual Projection H','DC':'Dual Projection C'}[datum.label]"}}}},
{"data":{"name":"d24"},"title":"μ₁, μ₂ = 2, 4","width":172,"height":130,"mark":{"type":"point","filled":true,"opacity":0.5,"size":16},"encoding":{"x":{"field":"p","type":"quantitative","scale":{"domain":[-0.1,1.1],"nice":false},"axis":{"title":"p","values":[0,0.2,0.4,0.6,0.8,1],"format":".1f"}},"y":{"field":"v","type":"quantitative","scale":{"domain":[-0.1,1.1],"nice":false},"axis":{"title":"H/C","values":[0,0.2,0.4,0.6,0.8,1],"format":".1f"}},"color":{"field":"s","type":"nominal","scale":{"domain":["SH","SC","PH","PC","NH","NC","BH","BC","DH","DC"],"range":["#FFA500","#FFA500","#BF00BF","#BF00BF","#FF0000","#FF0000","#008000","#008000","#0000FF","#0000FF"]},"legend":{"title":null,"labelExpr":"{'SH':'Standard H','SC':'Standard C','PH':'Projected H','PC':'Projected C','NH':'Naive H','NC':'Naive C','BH':'BiLouvain H','BC':'BiLouvain C','DH':'Dual Projection H','DC':'Dual Projection C'}[datum.label]"}},"shape":{"field":"s","type":"nominal","scale":{"domain":["SH","SC","PH","PC","NH","NC","BH","BC","DH","DC"],"range":["square","triangle-up","square","triangle-up","square","triangle-up","square","triangle-up","square","triangle-up"]},"legend":{"title":null,"labelExpr":"{'SH':'Standard H','SC':'Standard C','PH':'Projected H','PC':'Projected C','NH':'Naive H','NC':'Naive C','BH':'BiLouvain H','BC':'BiLouvain C','DH':'Dual Projection H','DC':'Dual Projection C'}[datum.label]"}}}},
{"data":{"name":"d32"},"title":"μ₁, μ₂ = 3, 2","width":172,"height":130,"mark":{"type":"point","filled":true,"opacity":0.5,"size":16},"encoding":{"x":{"field":"p","type":"quantitative","scale":{"domain":[-0.1,1.1],"nice":false},"axis":{"title":"p","values":[0,0.2,0.4,0.6,0.8,1],"format":".1f"}},"y":{"field":"v","type":"quantitative","scale":{"domain":[-0.1,1.1],"nice":false},"axis":{"title":"H/C","values":[0,0.2,0.4,0.6,0.8,1],"format":".1f"}},"color":{"field":"s","type":"nominal","scale":{"domain":["SH","SC","PH","PC","NH","NC","BH","BC","DH","DC"],"range":["#FFA500","#FFA500","#BF00BF","#BF00BF","#FF0000","#FF0000","#008000","#008000","#0000FF","#0000FF"]},"legend":{"title":null,"labelExpr":"{'SH':'Standard H','SC':'Standard C','PH':'Projected H','PC':'Projected C','NH':'Naive H','NC':'Naive C','BH':'BiLouvain H','BC':'BiLouvain C','DH':'Dual Projection H','DC':'Dual Projection C'}[datum.label]"}},"shape":{"field":"s","type":"nominal","scale":{"domain":["SH","SC","PH","PC","NH","NC","BH","BC","DH","DC"],"range":["square","triangle-up","square","triangle-up","square","triangle-up","square","triangle-up","square","triangle-up"]},"legend":{"title":null,"labelExpr":"{'SH':'Standard H','SC':'Standard C','PH':'Projected H','PC':'Projected C','NH':'Naive H','NC':'Naive C','BH':'BiLouvain H','BC':'BiLouvain C','DH':'Dual Projection H','DC':'Dual Projection C'}[datum.label]"}}}},
{"data":{"name":"d33"},"title":"μ₁, μ₂ = 3, 3","width":172,"height":130,"mark":{"type":"point","filled":true,"opacity":0.5,"size":16},"encoding":{"x":{"field":"p","type":"quantitative","scale":{"domain":[-0.1,1.1],"nice":false},"axis":{"title":"p","values":[0,0.2,0.4,0.6,0.8,1],"format":".1f"}},"y":{"field":"v","type":"quantitative","scale":{"domain":[-0.1,1.1],"nice":false},"axis":{"title":"H/C","values":[0,0.2,0.4,0.6,0.8,1],"format":".1f"}},"color":{"field":"s","type":"nominal","scale":{"domain":["SH","SC","PH","PC","NH","NC","BH","BC","DH","DC"],"range":["#FFA500","#FFA500","#BF00BF","#BF00BF","#FF0000","#FF0000","#008000","#008000","#0000FF","#0000FF"]},"legend":{"title":null,"labelExpr":"{'SH':'Standard H','SC':'Standard C','PH':'Projected H','PC':'Projected C','NH':'Naive H','NC':'Naive C','BH':'BiLouvain H','BC':'BiLouvain C','DH':'Dual Projection H','DC':'Dual Projection C'}[datum.label]"}},"shape":{"field":"s","type":"nominal","scale":{"domain":["SH","SC","PH","PC","NH","NC","BH","BC","DH","DC"],"range":["square","triangle-up","square","triangle-up","square","triangle-up","square","triangle-up","square","triangle-up"]},"legend":{"title":null,"labelExpr":"{'SH':'Standard H','SC':'Standard C','PH':'Projected H','PC':'Projected C','NH':'Naive H','NC':'Naive C','BH':'BiLouvain H','BC':'BiLouvain C','DH':'Dual Projection H','DC':'Dual Projection C'}[datum.label]"}}}},
{"data":{"name":"d34"},"title":"μ₁, μ₂ = 3, 4","width":172,"height":130,"mark":{"type":"point","filled":true,"opacity":0.5,"size":16},"encoding":{"x":{"field":"p","type":"quantitative","scale":{"domain":[-0.1,1.1],"nice":false},"axis":{"title":"p","values":[0,0.2,0.4,0.6,0.8,1],"format":".1f"}},"y":{"field":"v","type":"quantitative","scale":{"domain":[-0.1,1.1],"nice":false},"axis":{"title":"H/C","values":[0,0.2,0.4,0.6,0.8,1],"format":".1f"}},"color":{"field":"s","type":"nominal","scale":{"domain":["SH","SC","PH","PC","NH","NC","BH","BC","DH","DC"],"range":["#FFA500","#FFA500","#BF00BF","#BF00BF","#FF0000","#FF0000","#008000","#008000","#0000FF","#0000FF"]},"legend":{"title":null,"labelExpr":"{'SH':'Standard H','SC':'Standard C','PH':'Projected H','PC':'Projected C','NH':'Naive H','NC':'Naive C','BH':'BiLouvain H','BC':'BiLouvain C','DH':'Dual Projection H','DC':'Dual Projection C'}[datum.label]"}},"shape":{"field":"s","type":"nominal","scale":{"domain":["SH","SC","PH","PC","NH","NC","BH","BC","DH","DC"],"range":["square","triangle-up","square","triangle-up","square","triangle-up","square","triangle-up","square","triangle-up"]},"legend":{"title":null,"labelExpr":"{'SH':'Standard H','SC':'Standard C','PH':'Projected H','PC':'Projected C','NH':'Naive H','NC':'Naive C','BH':'BiLouvain H','BC':'BiLouvain C','DH':'Dual Projection H','DC':'Dual Projection C'}[datum.label]"}}}},
{"data":{"name":"d42"},"title":"μ₁, μ₂ = 4, 2","width":172,"height":130,"mark":{"type":"point","filled":true,"opacity":0.5,"size":16},"encoding":{"x":{"field":"p","type":"quantitative","scale":{"domain":[-0.1,1.1],"nice":false},"axis":{"title":"p","values":[0,0.2,0.4,0.6,0.8,1],"format":".1f"}},"y":{"field":"v","type":"quantitative","scale":{"domain":[-0.1,1.1],"nice":false},"axis":{"title":"H/C","values":[0,0.2,0.4,0.6,0.8,1],"format":".1f"}},"color":{"field":"s","type":"nominal","scale":{"domain":["SH","SC","PH","PC","NH","NC","BH","BC","DH","DC"],"range":["#FFA500","#FFA500","#BF00BF","#BF00BF","#FF0000","#FF0000","#008000","#008000","#0000FF","#0000FF"]},"legend":{"title":null,"labelExpr":"{'SH':'Standard H','SC':'Standard C','PH':'Projected H','PC':'Projected C','NH':'Naive H','NC':'Naive C','BH':'BiLouvain H','BC':'BiLouvain C','DH':'Dual Projection H','DC':'Dual Projection C'}[datum.label]"}},"shape":{"field":"s","type":"nominal","scale":{"domain":["SH","SC","PH","PC","NH","NC","BH","BC","DH","DC"],"range":["square","triangle-up","square","triangle-up","square","triangle-up","square","triangle-up","square","triangle-up"]},"legend":{"title":null,"labelExpr":"{'SH':'Standard H','SC':'Standard C','PH':'Projected H','PC':'Projected C','NH':'Naive H','NC':'Naive C','BH':'BiLouvain H','BC':'BiLouvain C','DH':'Dual Projection H','DC':'Dual Projection C'}[datum.label]"}}}},
{"data":{"name":"d43"},"title":"μ₁, μ₂ = 4, 3","width":172,"height":130,"mark":{"type":"point","filled":true,"opacity":0.5,"size":16},"encoding":{"x":{"field":"p","type":"quantitative","scale":{"domain":[-0.1,1.1],"nice":false},"axis":{"title":"p","values":[0,0.2,0.4,0.6,0.8,1],"format":".1f"}},"y":{"field":"v","type":"quantitative","scale":{"domain":[-0.1,1.1],"nice":false},"axis":{"title":"H/C","values":[0,0.2,0.4,0.6,0.8,1],"format":".1f"}},"color":{"field":"s","type":"nominal","scale":{"domain":["SH","SC","PH","PC","NH","NC","BH","BC","DH","DC"],"range":["#FFA500","#FFA500","#BF00BF","#BF00BF","#FF0000","#FF0000","#008000","#008000","#0000FF","#0000FF"]},"legend":{"title":null,"labelExpr":"{'SH':'Standard H','SC':'Standard C','PH':'Projected H','PC':'Projected C','NH':'Naive H','NC':'Naive C','BH':'BiLouvain H','BC':'BiLouvain C','DH':'Dual Projection H','DC':'Dual Projection C'}[datum.label]"}},"shape":{"field":"s","type":"nominal","scale":{"domain":["SH","SC","PH","PC","NH","NC","BH","BC","DH","DC"],"range":["square","triangle-up","square","triangle-up","square","triangle-up","square","triangle-up","square","triangle-up"]},"legend":{"title":null,"labelExpr":"{'SH':'Standard H','SC':'Standard C','PH':'Projected H','PC':'Projected C','NH':'Naive H','NC':'Naive C','BH':'BiLouvain H','BC':'BiLouvain C','DH':'Dual Projection H','DC':'Dual Projection C'}[datum.label]"}}}},
{"data":{"name":"d44"},"title":"μ₁, μ₂ = 4, 4","width":172,"height":130,"mark":{"type":"point","filled":true,"opacity":0.5,"size":16},"encoding":{"x":{"field":"p","type":"quantitative","scale":{"domain":[-0.1,1.1],"nice":false},"axis":{"title":"p","values":[0,0.2,0.4,0.6,0.8,1],"format":".1f"}},"y":{"field":"v","type":"quantitative","scale":{"domain":[-0.1,1.1],"nice":false},"axis":{"title":"H/C","values":[0,0.2,0.4,0.6,0.8,1],"format":".1f"}},"color":{"field":"s","type":"nominal","scale":{"domain":["SH","SC","PH","PC","NH","NC","BH","BC","DH","DC"],"range":["#FFA500","#FFA500","#BF00BF","#BF00BF","#FF0000","#FF0000","#008000","#008000","#0000FF","#0000FF"]},"legend":{"title":null,"labelExpr":"{'SH':'Standard H','SC':'Standard C','PH':'Projected H','PC':'Projected C','NH':'Naive H','NC':'Naive C','BH':'BiLouvain H','BC':'BiLouvain C','DH':'Dual Projection H','DC':'Dual Projection C'}[datum.label]"}},"shape":{"field":"s","type":"nominal","scale":{"domain":["SH","SC","PH","PC","NH","NC","BH","BC","DH","DC"],"range":["square","triangle-up","square","triangle-up","square","triangle-up","square","triangle-up","square","triangle-up"]},"legend":{"title":null,"labelExpr":"{'SH':'Standard H','SC':'Standard C','PH':'Projected H','PC':'Projected C','NH':'Naive H','NC':'Naive C','BH':'BiLouvain H','BC':'BiLouvain C','DH':'Dual Projection H','DC':'Dual Projection C'}[datum.label]"}}}}
]
}
